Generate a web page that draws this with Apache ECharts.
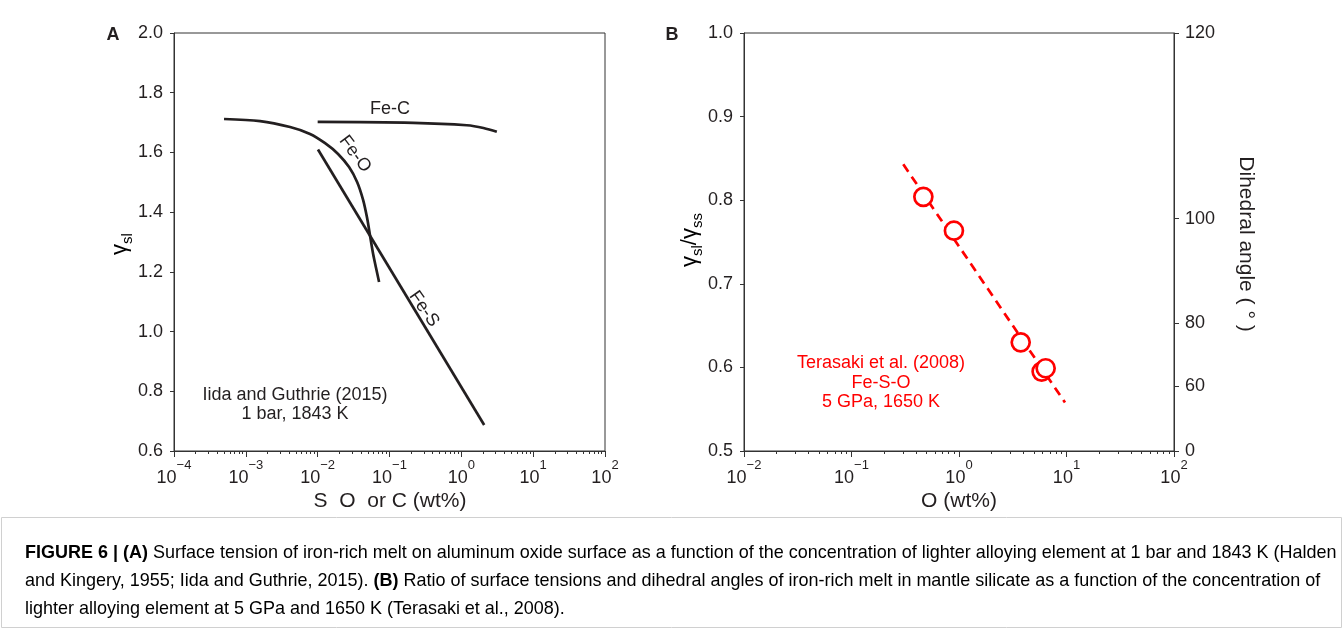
<!DOCTYPE html>
<html><head><meta charset="utf-8">
<script src="https://cdn.jsdelivr.net/npm/echarts@6/dist/echarts.min.js"></script>
<style>html,body{margin:0;padding:0;background:#fff}#c{width:1344px;height:629px}</style>
</head><body><div id="c"></div>
<script>
const FONT = '"Liberation Sans", Arial, Helvetica, sans-serif';
const INK = '#231f20';
const RED = '#ff0000';

// ---------- Panel A data (x in wt%, y = gamma_sl) ----------
const xExpA = [-4, -3, -2, -1, 0, 1, 2];
const yTicksA = [0.6, 0.8, 1.0, 1.2, 1.4, 1.6, 1.8, 2.0];
const feO_x = [4.97e-4, 1.58e-3, 4.13e-3, 7.83e-3, 1.268e-2, 1.923e-2, 2.735e-2, 3.54e-2, 4.29e-2, 4.88e-2, 5.37e-2, 5.92e-2, 6.5e-2, 7.16e-2];
const feO_y = [1.712, 1.705, 1.685, 1.662, 1.631, 1.595, 1.551, 1.501, 1.441, 1.380, 1.320, 1.260, 1.213, 1.166];
const feS_x = [0.0101, 2.08];
const feS_y = [1.610, 0.687];
const feC_x = [0.01, 0.215, 1.19, 2.03, 3.12];
const feC_y = [1.702, 1.699, 1.691, 1.682, 1.669];

// ---------- Panel B data ----------
const xExpB = [-2, -1, 0, 1, 2];
const yTicksB = [0.5, 0.6, 0.7, 0.8, 0.9, 1.0];
const terasaki_x = [0.466, 0.897, 3.75, 5.87, 6.40];
const terasaki_y = [0.804, 0.7635, 0.630, 0.595, 0.599];
const fit_x = [0.303, 9.68];
const fit_y = [0.843, 0.558];
const angleTicks = [0, 60, 80, 100, 120];

// ---------- helpers ----------
const lg = v => Math.log10(v);
const pairs = (xs, ys) => xs.map((x, i) => [lg(x), ys[i]]);
function minorTicks(lo, hi) {
  const out = [];
  for (let e = lo; e < hi; e++) for (let k = 2; k <= 9; k++) out.push(e + Math.log10(k));
  return out;
}
// gamma_sl/gamma_ss = 1 / (2 cos(theta/2))
const anglePos = angleTicks.map(t => 1 / (2 * Math.cos(t / 2 * Math.PI / 180)));

const expRich = {
  b: { fontSize: 18, fontFamily: FONT, color: INK, lineHeight: 18, padding: [10, 0, 0, 0], verticalAlign: 'top' },
  s: { fontSize: 13, fontFamily: FONT, color: INK, lineHeight: 13, verticalAlign: 'top' }
};
const expFmt = v => '{b|10}{s|' + (v < 0 ? '\u2212' : '') + Math.abs(Math.round(v)) + '}';

function mainX(grid, exps) {
  return {
    gridIndex: grid, type: 'value', position: 'bottom',
    min: exps[0], max: exps[exps.length - 1], interval: 1,
    axisLine: { onZero: false, lineStyle: { color: '#333', width: 1 } },
    axisTick: { length: 6, lineStyle: { color: '#333', width: 1 } },
    axisLabel: { margin: 8, fontSize: 18, fontFamily: FONT, color: INK, formatter: expFmt, rich: expRich },
    splitLine: { show: false }
  };
}
function minorX(grid, exps) {
  return {
    gridIndex: grid, type: 'value', position: 'bottom',
    min: exps[0], max: exps[exps.length - 1],
    axisLine: { show: false, onZero: false },
    axisTick: { length: 3, customValues: minorTicks(exps[0], exps[exps.length - 1]), lineStyle: { color: '#333', width: 1 } },
    axisLabel: { show: false },
    splitLine: { show: false }
  };
}
function leftY(grid, ticks, iv) {
  return {
    gridIndex: grid, type: 'value', position: 'left',
    min: ticks[0], max: ticks[ticks.length - 1], interval: iv,
    axisLine: { show: true, onZero: false, lineStyle: { color: '#333', width: 1 } },
    axisTick: { show: true, length: 4, lineStyle: { color: '#333', width: 1 } },
    axisLabel: { margin: 11, fontSize: 18, fontFamily: FONT, color: INK, formatter: v => v.toFixed(1) },
    splitLine: { show: false }
  };
}

// ---------- caption ----------
const capLines = [
  [['b', 'FIGURE 6 | (A)'], ['n', ' Surface tension of iron-rich melt on aluminum oxide surface as a function of the concentration of lighter alloying element at 1 bar and 1843 K ('], ['g', 'Halden']],
  [['g', 'and Kingery, 1955'], ['n', '; '], ['g', 'Iida and Guthrie, 2015'], ['n', '). '], ['b', '(B)'], ['n', ' Ratio of surface tensions and dihedral angles of iron-rich melt in mantle silicate as a function of the concentration of']],
  [['n', 'lighter alloying element at 5 GPa and 1650 K ('], ['g', 'Terasaki et al., 2008'], ['n', ').']]
];
const cv = document.createElement('canvas').getContext('2d');
function lineWidth(line, fs) {
  let w = 0;
  line.forEach(([k, t]) => { cv.font = (k === 'b' ? 'bold ' : '') + fs + 'px ' + FONT; w += cv.measureText(t).width; });
  return w;
}
const capFS = 14 * 1312 / lineWidth(capLines[0], 14);
const capRich = {
  b: { fontSize: capFS, fontFamily: FONT, fontWeight: 'bold', color: '#333' },
  n: { fontSize: capFS, fontFamily: FONT, color: '#333' },
  g: { fontSize: capFS, fontFamily: FONT, color: '#8c8c8c' }
};
const capY = [553, 581, 609];
const capGraphics = capLines.map((line, i) => ({
  type: 'text', x: 25, y: capY[i],
  style: { text: line.map(([k, t]) => '{' + k + '|' + t + '}').join(''), rich: capRich, align: 'left', verticalAlign: 'middle' }
}));

function txt(x, y, text, opt) {
  return { type: 'text', x: x, y: y, style: Object.assign({ text: text, fontSize: 18, fontFamily: FONT, fill: INK, align: 'center', verticalAlign: 'middle' }, opt || {}) };
}
function rtxt(x, y, deg, text, opt) {
  const t = txt(x, y, text, opt);
  t.rotation = deg * Math.PI / 180;
  return t;
}
const gRich = {
  g: { fontSize: 22, fontFamily: FONT, color: INK, lineHeight: 24, verticalAlign: 'top' },
  sub: { fontSize: 15, fontFamily: FONT, color: INK, lineHeight: 15, padding: [11, 0, 0, 0], verticalAlign: 'top' }
};

const chart = echarts.init(document.getElementById('c'), null, { renderer: 'canvas' });
chart.setOption({
  animation: false,
  backgroundColor: '#fff',
  grid: [
    { left: 174, top: 33, width: 431, height: 418, show: true, borderColor: '#333', borderWidth: 1, backgroundColor: 'transparent' },
    { left: 744, top: 33, width: 430, height: 418, show: true, borderColor: '#333', borderWidth: 1, backgroundColor: 'transparent' }
  ],
  xAxis: [mainX(0, xExpA), minorX(0, xExpA), mainX(1, xExpB), minorX(1, xExpB)],
  yAxis: [
    leftY(0, yTicksA, 0.2),
    leftY(1, yTicksB, 0.1),
    {
      gridIndex: 1, type: 'value', position: 'right', min: yTicksB[0], max: yTicksB[yTicksB.length - 1],
      axisLine: { show: true, onZero: false, lineStyle: { color: '#333', width: 1 } },
      axisTick: { show: true, length: 5, customValues: anglePos, lineStyle: { color: '#333', width: 1 } },
      axisLabel: {
        margin: 11, fontSize: 18, fontFamily: FONT, color: INK, customValues: anglePos,
        formatter: v => {
          let best = 0;
          anglePos.forEach((p, i) => { if (Math.abs(p - v) < Math.abs(anglePos[best] - v)) best = i; });
          return String(angleTicks[best]);
        }
      },
      splitLine: { show: false }
    }
  ],
  series: [
    { type: 'line', name: 'Fe-O', xAxisIndex: 0, yAxisIndex: 0, data: pairs(feO_x, feO_y), smooth: 0.3, symbol: 'none', lineStyle: { color: INK, width: 2.7 }, silent: true },
    { type: 'line', name: 'Fe-S', xAxisIndex: 0, yAxisIndex: 0, data: pairs(feS_x, feS_y), symbol: 'none', lineStyle: { color: INK, width: 2.7 }, silent: true },
    { type: 'line', name: 'Fe-C', xAxisIndex: 0, yAxisIndex: 0, data: pairs(feC_x, feC_y), smooth: 0.35, symbol: 'none', lineStyle: { color: INK, width: 2.7 }, silent: true },
    { type: 'line', name: 'fit', xAxisIndex: 2, yAxisIndex: 1, data: pairs(fit_x, fit_y), symbol: 'none', lineStyle: { color: RED, width: 2.7, type: [9, 6] }, silent: true, z: 2 },
    { type: 'scatter', name: 'Terasaki', xAxisIndex: 2, yAxisIndex: 1, data: pairs(terasaki_x, terasaki_y), symbol: 'circle', symbolSize: 18, itemStyle: { color: '#fff', borderColor: RED, borderWidth: 2.7, opacity: 1 }, silent: true, z: 3 }
  ],
  graphic: [
    { type: 'rect', shape: { x: 1.5, y: 517.5, width: 1340, height: 110 }, style: { fill: 'none', stroke: '#d0d0d0', lineWidth: 1 } },
    txt(113, 35, 'A', { fontWeight: 'bold', fontSize: 18 }),
    txt(672, 35, 'B', { fontWeight: 'bold', fontSize: 18 }),
    txt(390, 501, 'S  O  or C (wt%)', { fontSize: 21 }),
    txt(959, 501, 'O (wt%)', { fontSize: 21 }),
    { type: 'text', x: 121, y: 244, rotation: Math.PI / 2, style: { text: '{g|\u03b3}{sub|sl}', rich: gRich, align: 'center', verticalAlign: 'middle' } },
    { type: 'text', x: 691, y: 240, rotation: Math.PI / 2, style: { text: '{g|\u03b3}{sub|sl}{g|/\u03b3}{sub|ss}', rich: gRich, align: 'center', verticalAlign: 'middle' } },
    rtxt(1246, 244, -90, 'Dihedral angle ( \u00b0 )', { fontSize: 21 }),
    txt(390, 109, 'Fe-C'),
    rtxt(355, 154, -53, 'Fe-O'),
    rtxt(424, 309, -55, 'Fe-S'),
    txt(295, 405, 'Iida and Guthrie (2015)\n1 bar, 1843 K', { lineHeight: 19 }),
    txt(881, 383, 'Terasaki et al. (2008)\nFe-S-O\n5 GPa, 1650 K', { fill: RED, lineHeight: 19.5 })
  ].concat(capGraphics)
});
</script></body></html>
